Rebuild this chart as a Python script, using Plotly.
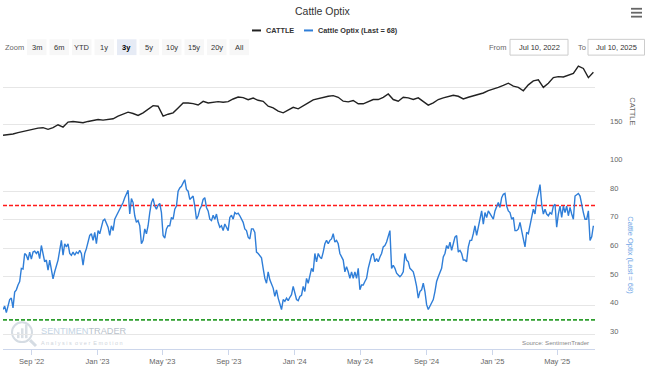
import pandas as pd
import plotly.graph_objects as go

# ---------------- data ----------------
START_DATE = "2022-07-10"
END_DATE = "2025-07-10"
LAST_OBS = "2025-07-07"

OPTIX = [
    38.6, 39.8, 37.5, 40.3, 42.1, 42.6, 39.2, 44.7, 45.5, 47.2,
    48.4, 53.0, 52.8, 58.2, 57.6, 55.9, 58.7, 56.2, 58.7, 59.0,
    58.2, 59.0, 56.4, 61.0, 57.6, 55.3, 55.9, 52.4, 55.9, 51.8,
    49.3, 51.8, 53.6, 55.9, 59.3, 62.8, 57.6, 61.6, 60.5, 61.6,
    58.2, 57.6, 58.7, 57.6, 58.7, 58.2, 59.3, 58.2, 54.1, 58.2,
    59.9, 62.2, 64.5, 65.1, 62.8, 65.6, 61.6, 66.2, 65.1, 67.4,
    69.7, 70.2, 68.5, 67.4, 64.5, 67.9, 66.2, 70.2, 71.4, 72.5,
    73.7, 74.8, 76.0, 77.7, 79.4, 80.3, 72.0, 77.4, 76.0, 71.4,
    69.1, 69.7, 67.9, 61.6, 62.8, 66.8, 65.1, 67.9, 72.5, 76.0,
    77.4,
    74.8, 73.7, 75.1, 75.7, 72.5, 64.5, 63.6, 66.8, 67.9, 67.9,
    70.8, 70.2, 73.7, 74.8, 80.0, 81.1, 81.7, 82.9, 84.0, 80.6,
    80.0, 77.1, 77.7, 78.3, 74.8, 70.2, 71.4, 73.7, 74.8, 77.1,
    77.7, 74.3, 73.1, 70.2, 69.7, 71.6, 70.2, 72.0, 69.1, 67.4,
    67.9, 66.2, 68.5, 67.4, 66.2, 70.8, 71.6, 70.2, 72.5, 72.0,
    72.3, 71.4, 70.2, 69.1, 66.8, 66.2, 63.9, 63.3, 66.8, 66.8,
    65.6, 58.7, 58.2, 57.6, 56.7, 53.0, 49.5, 47.8, 51.8, 49.0,
    47.2, 46.1, 43.2, 45.5, 42.6, 40.9, 38.6, 42.1, 41.5, 42.6,
    41.7, 42.9, 43.8, 46.7, 44.4, 42.1, 41.7, 43.2, 43.6, 46.7,
    44.9, 49.5, 47.8, 50.7, 53.0, 51.8, 58.2, 55.3, 58.2, 57.0,
    56.4, 58.7, 61.6, 62.8, 61.6, 62.8, 63.3, 65.1, 62.2, 62.8,
    61.6, 58.2, 57.0, 55.9, 51.8, 53.6, 51.8, 49.5, 51.8, 49.5,
    51.8, 49.5, 53.0, 45.5, 47.2, 47.2, 48.4, 49.5, 53.0, 55.3,
    57.6, 58.2, 55.3, 56.4, 55.3, 57.0, 58.2, 60.5, 61.0, 62.2,
    63.9, 66.2, 53.0, 54.1, 53.0, 51.3, 50.7, 50.1, 50.7, 51.8,
    58.2, 55.9, 55.3, 53.0, 52.4, 51.8, 49.5, 46.7, 42.6, 44.9,
    45.5, 47.8, 44.9, 40.3, 38.6, 39.8, 40.9, 42.1, 44.9, 48.4,
    50.1, 51.3, 53.0, 57.0, 58.2, 61.0, 59.9, 62.2, 59.3, 61.6,
    63.9, 64.5, 58.7, 59.3, 58.2, 55.9, 55.9, 55.3, 60.5, 62.8,
    62.8, 65.1, 67.9, 64.5, 67.9, 70.2, 73.1, 68.5, 72.5, 70.8,
    73.1, 72.0, 71.4, 70.2, 73.1, 74.8, 76.0, 74.3, 77.7, 78.9,
    79.2, 74.8, 73.1, 72.5, 70.2, 70.8, 66.2, 66.2, 66.8, 69.1,
    65.6, 63.3, 60.5, 65.6, 65.1, 67.9, 71.4, 73.7, 72.0, 77.1,
    79.4, 82.3, 75.4, 72.0, 73.7, 72.0, 71.4, 72.5, 72.0, 74.8,
    75.4, 67.4, 72.0, 74.8, 70.8, 74.8, 72.5, 74.8, 71.4, 74.3,
    72.0, 70.2, 78.3, 78.9, 79.2, 78.3, 74.8, 72.5, 70.2, 70.2,
    73.1, 62.8, 64.0, 67.9,
]

CATTLE = [
    136.0, 136.8, 137.7, 139.5, 141.2, 143.0, 144.7, 145.6, 146.1, 143.9,
    146.1, 150.0, 146.9, 153.5, 154.4, 153.5, 152.6, 154.4, 156.1, 157.0,
    156.1, 156.6, 157.9, 161.4, 164.0, 166.7, 164.9, 162.3, 165.8, 170.2,
    175.4, 174.6, 161.4, 164.0, 165.8, 172.4, 178.9, 178.9, 178.1, 176.3,
    181.1, 178.9, 179.8, 180.7, 179.8, 180.7, 184.2, 186.8, 186.0, 183.3,
    185.5, 182.5, 181.1, 174.6, 172.4, 168.0, 165.8, 169.3, 173.2, 171.1,
    175.7, 179.1, 183.0, 184.8, 185.7, 187.8, 188.7, 186.5, 181.3, 180.4,
    182.2, 177.8, 177.8, 180.4, 183.5, 183.5, 186.5, 190.9, 183.5, 181.3,
    186.5, 185.7, 183.5, 185.7, 181.3, 176.1, 179.1, 183.5, 185.7, 187.8,
    189.1, 187.8, 184.3, 186.5, 188.3, 190.9, 192.2, 195.2, 197.0, 199.6,
    202.2, 205.2, 201.3, 199.6, 195.2, 203.0, 208.3, 209.6, 199.6, 205.2,
    212.6, 213.9, 213.5, 216.1, 218.3, 227.8, 224.8, 212.6, 219.6,
]

UPPER_LEVEL = 75
LOWER_LEVEL = 35
LAST_VALUE = 68

TICK_DATES = ["2022-09-01", "2023-01-01", "2023-05-01", "2023-09-01", "2024-01-01",
              "2024-05-01", "2024-09-01", "2025-01-01", "2025-05-01"]
TICK_LABELS = ["Sep '22", "Jan '23", "May '23", "Sep '23", "Jan '24",
               "May '24", "Sep '24", "Jan '25", "May '25"]
OPTIX_TICKS = [30, 40, 50, 60, 70, 80]
CATTLE_TICKS = [100, 150, 200]
CATTLE_TICK_TEXT = ["100", "150", ""]
ZOOM_BUTTONS = ["3m", "6m", "YTD", "1y", "3y", "5y", "10y", "15y", "20y", "All"]
SELECTED_BUTTON = "3y"
FROM_TEXT = "Jul 10, 2022"
TO_TEXT = "Jul 10, 2025"

optix_dates = pd.date_range(START_DATE, LAST_OBS, periods=len(OPTIX))
cattle_dates = pd.date_range(START_DATE, LAST_OBS, periods=len(CATTLE))

# ---------------- layout geometry ----------------
W, H = 645, 369
L, R, T, B = 3, 50, 63, 16
PW, PH = W - L - R, H - T - B


def px(x):
    return (x - L) / PW


def py(y):
    return (H - B - y) / PH


FONT = "Liberation Sans, Arial, sans-serif"
BLUE = "#2f7ed8"

fig = go.Figure()
fig.add_trace(go.Scatter(x=cattle_dates, y=CATTLE, mode="lines", name="CATTLE",
                         yaxis="y2", line=dict(color="#222222", width=1.4)))
fig.add_trace(go.Scatter(x=optix_dates, y=OPTIX, mode="lines",
                         name=f"Cattle Optix (Last = {LAST_VALUE})",
                         yaxis="y", line=dict(color=BLUE, width=1.4)))

shapes = [
    dict(type="line", xref="x domain", x0=0, x1=1, yref="y", y0=UPPER_LEVEL, y1=UPPER_LEVEL,
         line=dict(color="#ff1a1a", width=1.4, dash="4px,2px"), layer="below"),
    dict(type="line", xref="x domain", x0=0, x1=1, yref="y", y0=LOWER_LEVEL, y1=LOWER_LEVEL,
         line=dict(color="#2e9e2e", width=1.6, dash="4px,2px"), layer="below"),
]
annotations = []


def text(x, y, s, size=8, color="#333333", xanchor="left", bold=False, angle=0, family=FONT):
    if bold:
        s = f"<b>{s}</b>"
    annotations.append(dict(xref="paper", yref="paper", x=px(x), y=py(y), text=s,
                            showarrow=False, xanchor=xanchor, yanchor="middle",
                            textangle=angle, font=dict(size=size, color=color, family=family)))


# title & legend
text(323, 10, "Cattle Optix", size=10.5, color="#333333", xanchor="center")
shapes.append(dict(type="line", xref="paper", yref="paper", x0=px(252), x1=px(261), y0=py(30), y1=py(30),
                   line=dict(color="#222222", width=2)))
text(264, 30, "CATTLE", size=7.3, bold=True)
shapes.append(dict(type="line", xref="paper", yref="paper", x0=px(304), x1=px(313), y0=py(30), y1=py(30),
                   line=dict(color=BLUE, width=2)))
text(316, 30, f"Cattle Optix (Last = {LAST_VALUE})", size=7.3, bold=True)

# hamburger
for yy in (8, 12, 16):
    shapes.append(dict(type="line", xref="paper", yref="paper", x0=px(631), x1=px(642), y0=py(yy), y1=py(yy),
                       line=dict(color="#666666", width=1.8)))

# range selector look-alike
text(3, 47, "Zoom", size=7.5, color="#666666")
bx = 27
for lab in ZOOM_BUTTONS:
    sel = lab == SELECTED_BUTTON
    shapes.append(dict(type="rect", xref="paper", yref="paper", x0=px(bx), x1=px(bx + 19.5),
                       y0=py(55), y1=py(39), fillcolor="#e6ebf5" if sel else "#f7f7f7",
                       line=dict(width=0), layer="below"))
    text(bx + 9.75, 47, lab, size=7.5, color="#000000" if sel else "#333333", xanchor="center", bold=sel)
    bx += 22.5

text(487, 47, "From", size=7.5, color="#666666")
shapes.append(dict(type="rect", xref="paper", yref="paper", x0=px(510), x1=px(568), y0=py(55), y1=py(39),
                   fillcolor="white", line=dict(color="#cccccc", width=1)))
text(539, 47, FROM_TEXT, size=7.5, xanchor="center")
text(576, 47, "To", size=7.5, color="#666666")
shapes.append(dict(type="rect", xref="paper", yref="paper", x0=px(588), x1=px(644.5), y0=py(55), y1=py(39),
                   fillcolor="white", line=dict(color="#cccccc", width=1)))
text(616, 47, TO_TEXT, size=7.5, xanchor="center")

# axis titles
text(633, 112, "CATTLE", size=7.5, color="#666666", xanchor="center", angle=90)
text(631, 258, f"Cattle Optix (Last = {LAST_VALUE})", size=7.5, color="#6fa6e6", xanchor="center", angle=90)

# watermark / source
shapes.append(dict(type="circle", xref="paper", yref="paper", x0=px(12), x1=px(32), y0=py(346), y1=py(326),
                   line=dict(color="#d5dce3", width=2), layer="below"))
for i, h0 in enumerate([6, 10, 14]):
    shapes.append(dict(type="rect", xref="paper", yref="paper", x0=px(17 + 4 * i), x1=px(19.5 + 4 * i),
                       y0=py(342), y1=py(342 - h0), fillcolor="#d9dfe5", line=dict(width=0), layer="below"))
shapes.append(dict(type="line", xref="paper", yref="paper", x0=px(30), x1=px(36), y0=py(344), y1=py(350),
                   line=dict(color="#d5dce3", width=3), layer="below"))
text(39, 335, '<span style="color:#c3d3e3">SENTIMEN</span><span style="color:#b9c2cb">TRADER</span>',
     size=9.2, color="#c3d3e3")
text(39, 347, "A n a l y s i s  o v e r  E m o t i o n", size=5.5, color="#cfd5db")
text(591, 346, "Source: SentimenTrader", size=6.2, color="#888888", xanchor="right")

fig.update_layout(
    width=W, height=H,
    margin=dict(l=L, r=R, t=T, b=B, pad=0),
    paper_bgcolor="white", plot_bgcolor="white",
    showlegend=False,
    font=dict(family=FONT, size=8, color="#666666"),
    shapes=shapes, annotations=annotations,
    xaxis=dict(type="date", range=[START_DATE, END_DATE], domain=[0, 1], anchor="y",
               showgrid=False, zeroline=False, showline=True, linecolor="#ccd6eb", linewidth=1,
               ticks="outside", ticklen=5, tickcolor="#ccd6eb",
               tickvals=TICK_DATES, ticktext=TICK_LABELS,
               tickfont=dict(size=7.5, color="#666666", family=FONT)),
    yaxis=dict(domain=[0, py(177)], range=[24.8, 85.5], side="right", anchor="x",
               tickvals=OPTIX_TICKS, showgrid=True, gridcolor="#e6e6e6", gridwidth=1,
               zeroline=False, showline=False, ticks="", ticklabelstandoff=14, ticklabelshift=-3,
               tickfont=dict(size=7.5, color="#666666", family=FONT)),
    yaxis2=dict(domain=[py(163.8), 1], range=[100, 232], side="right", anchor="x",
                tickvals=CATTLE_TICKS, ticktext=CATTLE_TICK_TEXT, showgrid=True, gridcolor="#e6e6e6",
                zeroline=False, showline=False, ticks="", ticklabelstandoff=14, ticklabelshift=-3,
                tickfont=dict(size=7.5, color="#666666", family=FONT)),
)

fig.write_html("out.html", config={"displayModeBar": False},
               post_script="document.body.style.margin='0';document.body.style.overflow='hidden';")
